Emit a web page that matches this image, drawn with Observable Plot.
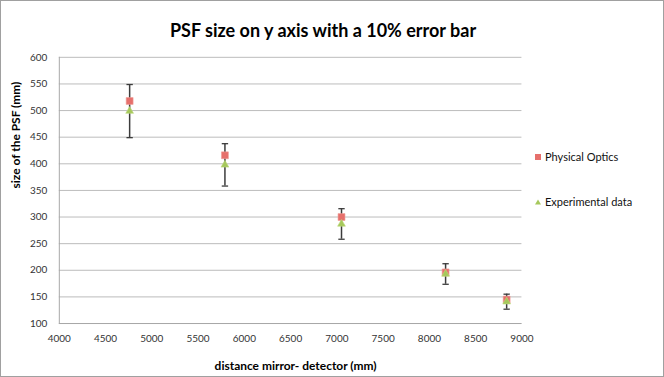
<!DOCTYPE html>
<html>
<head>
<meta charset="utf-8">
<script src="https://cdn.jsdelivr.net/npm/d3@7"></script>
<script src="https://cdn.jsdelivr.net/npm/@observablehq/plot@0.6"></script>
<style>
  html, body { margin: 0; padding: 0; background: #fff; }
  #chart { position: relative; width: 664px; height: 377px; box-sizing: border-box; border: 1px solid #a0a0a0; font-family: Lato, "Open Sans", sans-serif; overflow: hidden; }
  #chart svg.plot { position: absolute; left: -1px; top: -1px; }
  #title { position: absolute; left: -10px; width: 664px; top: 18px; text-align: center; font-weight: bold; font-size: 18px; color: #000; }
  .leg { position: absolute; left: 533px; font-size: 11px; color: #111; display: flex; align-items: center; white-space: nowrap; }
  .leg svg { margin-right: 3px; }
</style>
</head>
<body>
<div id="chart">
  <div id="title">PSF size on y axis with a 10% error bar</div>
</div>
<script>
const distance = [4760, 5790, 7050, 8175, 8835];
const physicalOptics = [518, 416, 300, 196, 145];
const experimental = [499, 398, 287, 193, 141];
const errorFraction = 0.10;
const xTicks = [4000, 4500, 5000, 5500, 6000, 6500, 7000, 7500, 8000, 8500, 9000];
const yTicks = [100, 150, 200, 250, 300, 350, 400, 450, 500, 550, 600];
const seriesNames = ["Physical Optics", "Experimental data"];
const colors = {phys: "#e6706c", exp: "#a6c85c"};

const physData = distance.map((d, i) => ({x: d, y: physicalOptics[i]}));
const expData = distance.map((d, i) => ({x: d, y: experimental[i], lo: experimental[i] * (1 - errorFraction), hi: experimental[i] * (1 + errorFraction)}));

const capSymbol = { draw(ctx, size) { const w = 3.2; ctx.moveTo(-w, 0); ctx.lineTo(w, 0); } };

const plot = Plot.plot({
  width: 664,
  height: 377,
  marginLeft: 59,
  marginRight: 141,
  marginTop: 57,
  marginBottom: 53,
  style: {fontFamily: "Lato, 'Open Sans', sans-serif", background: "transparent", overflow: "visible"},
  x: {domain: [4000, 9000]},
  y: {domain: [100, 600]},
  marks: [
    Plot.gridY(yTicks, {stroke: "#bcbcbc", strokeOpacity: 1, strokeWidth: 1}),
    Plot.ruleX([4000], {stroke: "#a8a8a8", strokeWidth: 1}),
    Plot.ruleY([100], {stroke: "#a8a8a8", strokeWidth: 1}),
    Plot.axisX(xTicks, {tickSize: 0, tickPadding: 11, tickFormat: d => String(d), fontSize: 10, fill: "#333", label: null}),
    Plot.axisY(yTicks, {tickSize: 0, tickPadding: 12, tickFormat: d => String(d), fontSize: 10, fill: "#333", label: null}),
    Plot.text(["distance mirror- detector (mm)"], {frameAnchor: "bottom", dy: 47, dx: 5, fontWeight: "bold", fontSize: 12, fill: "#000"}),
    Plot.text(["size of the PSF (mm)"], {frameAnchor: "left", dx: -43, dy: -2, rotate: -90, fontWeight: "bold", fontSize: 12, fill: "#000"}),
    Plot.ruleX(expData, {x: "x", y1: "lo", y2: "hi", stroke: "#3c3c3c", strokeWidth: 1.5}),
    Plot.dot(expData, {x: "x", y: "lo", symbol: capSymbol, stroke: "#3c3c3c", strokeWidth: 1.3, fill: "none"}),
    Plot.dot(expData, {x: "x", y: "hi", symbol: capSymbol, stroke: "#3c3c3c", strokeWidth: 1.3, fill: "none"}),
    Plot.dot(physData, {x: "x", y: "y", symbol: "square", r: 3.9, fill: colors.phys, stroke: "#f09a96", strokeWidth: 0.6}),
    Plot.dot(expData, {x: "x", y: "y", symbol: "triangle", r: 2.9, fill: colors.exp, stroke: "#bcd97a", strokeWidth: 0.6})
  ]
});
plot.classList.add("plot");
const chart = document.getElementById("chart");
chart.appendChild(plot);

const legendItems = [
  {name: seriesNames[0], top: 149, svg: `<svg width="8" height="8"><rect x="1" y="1" width="6" height="6" fill="${colors.phys}"/></svg>`},
  {name: seriesNames[1], top: 194, svg: `<svg width="8" height="8"><path d="M4,1.5L7,6.5L1,6.5Z" fill="${colors.exp}"/></svg>`}
];
for (const item of legendItems) {
  const div = document.createElement("div");
  div.className = "leg";
  div.style.top = item.top + "px";
  div.innerHTML = item.svg + `<span>${item.name}</span>`;
  chart.appendChild(div);
}
</script>
</body>
</html>
